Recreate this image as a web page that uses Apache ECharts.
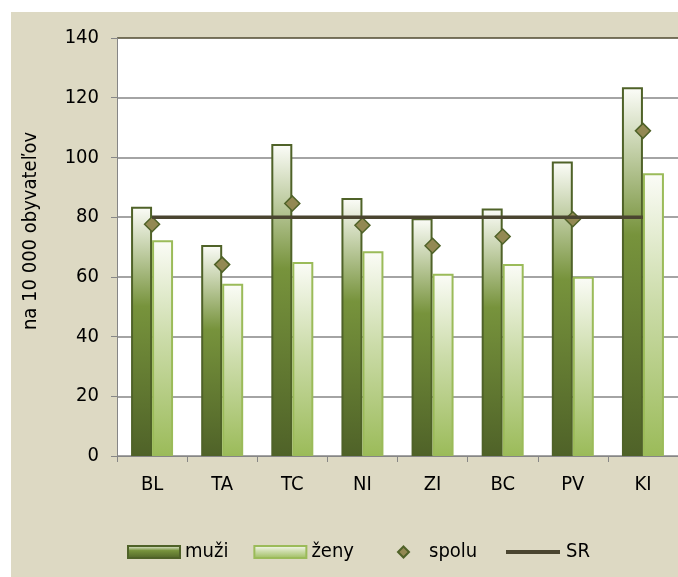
<!DOCTYPE html>
<html>
<head>
<meta charset="utf-8">
<script src="https://cdn.jsdelivr.net/npm/echarts@6/dist/echarts.min.js"></script>
<style>
  html, body { margin: 0; padding: 0; background: #fff; }
  #main { width: 678px; height: 577px; }
</style>
</head>
<body>
<div id="main"></div>
<script>
var dom = document.getElementById('main');
var myChart = echarts.init(dom, null, { renderer: 'canvas' });

var categories = ['BL', 'TA', 'TC', 'NI', 'ZI', 'BC', 'PV', 'KI'];
var muzi = [83.5, 70.7, 104.5, 86.4, 79.6, 82.9, 98.6, 123.5];
var zeny = [72.3, 57.7, 65.0, 68.6, 61.0, 64.3, 60.0, 94.7];
var spolu = [77.6, 64.1, 84.6, 77.3, 70.4, 73.5, 79.3, 108.9];
var sr = [80, 80, 80, 80, 80, 80, 80, 80];

var font = '"DejaVu Sans Condensed", "DejaVu Sans", sans-serif';
var legendText = { fontFamily: font, fontSize: 20, color: '#000' };

function vGrad(stops) {
    return new echarts.graphic.LinearGradient(0, 0, 0, 1, stops);
}

var option = {
    backgroundColor: '#fff',
    textStyle: { fontFamily: font },
    graphic: [
        {
            type: 'rect',
            z: -10,
            shape: { x: 11, y: 12, width: 667, height: 565 },
            style: { fill: '#ddd9c3' }
        }
    ],
    grid: {
        left: 117,
        right: -2,
        top: 38,
        bottom: 121,
        show: true,
        backgroundColor: '#fff',
        borderWidth: 0
    },
    legend: [
        {
            left: 122,
            top: 537,
            itemWidth: 52,
            itemHeight: 12,
            itemGap: 25,
            textStyle: legendText,
            data: [
                { name: 'muži', icon: 'rect' },
                { name: 'ženy', icon: 'rect' }
            ]
        },
        {
            left: 392,
            top: 537,
            itemWidth: 11,
            itemHeight: 11,
            textStyle: Object.assign({ padding: [0, 0, 0, 15] }, legendText),
            data: [{ name: 'spolu', icon: 'diamond' }]
        },
        {
            left: 501,
            top: 537,
            itemWidth: 54,
            itemHeight: 4,
            textStyle: Object.assign({ padding: [0, 0, 0, 1] }, legendText),
            data: [{ name: 'SR', icon: 'rect' }]
        }
    ],
    xAxis: {
        type: 'category',
        data: categories,
        axisLine: { lineStyle: { color: '#868686', width: 1 } },
        axisTick: { show: true, length: 6, lineStyle: { color: '#868686' } },
        axisLabel: { fontFamily: font, fontSize: 20, color: '#000', margin: 19 }
    },
    yAxis: {
        type: 'value',
        min: 0,
        max: 140,
        interval: 20,
        name: 'na 10 000 obyvateľov',
        nameLocation: 'middle',
        nameGap: 76,
        nameRotate: 90,
        nameTextStyle: { fontFamily: font, fontSize: 20, color: '#000', padding: [0, 0, 0, 32] },
        axisLine: { show: true, lineStyle: { color: '#868686', width: 1 } },
        axisTick: { show: true, length: 6, lineStyle: { color: '#868686' } },
        axisLabel: { fontFamily: font, fontSize: 20, color: '#000', margin: 18 },
        splitLine: {
            lineStyle: {
                color: ['#868686', '#868686', '#868686', '#868686', '#868686', '#868686', '#868686', '#4f4a30'],
                width: 1.5
            }
        }
    },
    series: [
        {
            name: 'muži',
            type: 'bar',
            barWidth: 21,
            barGap: '0%',
            data: muzi,
            itemStyle: {
                color: vGrad([
                    { offset: 0, color: '#fcfdf9' },
                    { offset: 0.4, color: '#77933c' },
                    { offset: 1, color: '#4f6228' }
                ]),
                borderColor: '#4f6228',
                borderWidth: 2
            }
        },
        {
            name: 'ženy',
            type: 'bar',
            barWidth: 21,
            data: zeny,
            itemStyle: {
                color: vGrad([
                    { offset: 0, color: '#fbfcf7' },
                    { offset: 0.45, color: '#ccdcaa' },
                    { offset: 1, color: '#9bbb59' }
                ]),
                borderColor: '#9bbb59',
                borderWidth: 2
            }
        },
        {
            name: 'SR',
            type: 'line',
            data: sr,
            symbol: 'none',
            lineStyle: { color: '#4a4530', width: 3.5 },
            itemStyle: { color: '#4a4530' }
        },
        {
            name: 'spolu',
            type: 'scatter',
            data: spolu,
            symbol: 'diamond',
            symbolSize: 15,
            itemStyle: {
                color: '#938953',
                borderColor: '#4f6228',
                borderWidth: 1.5,
                opacity: 1
            }
        }
    ]
};

myChart.setOption(option);
window.addEventListener('resize', myChart.resize);
</script>
</body>
</html>
